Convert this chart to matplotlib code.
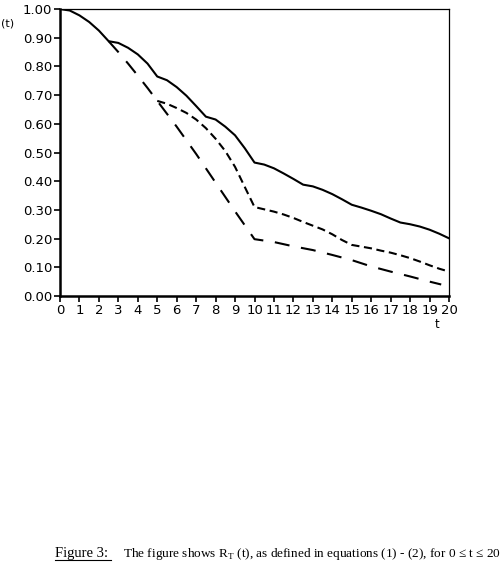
import numpy as np
import matplotlib.pyplot as plt

# ── data ───────────────────────────────────────────────────────────────────
t_solid = [0, 0.5, 1.0, 1.5, 2.0, 2.5, 3.0, 3.5, 4.0, 4.5, 5.0, 5.5, 6.0, 6.5,
           7.0, 7.5, 8.0, 8.5, 9.0, 9.5, 10.0, 10.5, 11.0, 11.5, 12.0, 12.5,
           13.0, 13.5, 14.0, 14.5, 15.0, 15.5, 16.0, 16.5, 17.0, 17.5, 18.0,
           18.5, 19.0, 19.5, 20.0]
r_solid = [1.000, 0.995, 0.978, 0.955, 0.925, 0.888, 0.882, 0.865, 0.842, 0.810,
           0.765, 0.752, 0.728, 0.698, 0.662, 0.625, 0.615, 0.590, 0.560, 0.515,
           0.465, 0.458, 0.445, 0.427, 0.408, 0.388, 0.382, 0.370, 0.355, 0.337,
           0.318, 0.308, 0.297, 0.285, 0.270, 0.256, 0.250, 0.242, 0.231, 0.217,
           0.201]

t_short = [5.0, 5.5, 6.0, 6.5, 7.0, 7.5, 8.0, 8.5, 9.0, 9.5, 10.0, 10.5, 11.0,
           11.5, 12.0, 12.5, 13.0, 13.5, 14.0, 14.5, 15.0, 15.5, 16.0, 16.5,
           17.0, 17.5, 18.0, 18.5, 19.0, 19.5, 20.0]
r_short = [0.680, 0.670, 0.655, 0.638, 0.615, 0.585, 0.548, 0.505, 0.450, 0.380,
           0.310, 0.302, 0.294, 0.284, 0.272, 0.258, 0.245, 0.232, 0.215, 0.195,
           0.178, 0.172, 0.166, 0.158, 0.151, 0.142, 0.132, 0.120, 0.107, 0.095,
           0.085]

t_long = [2.5, 3.0, 3.5, 4.0, 4.5, 5.0, 6.0, 7.0, 8.0, 9.0, 10.0, 11.0, 12.0,
          13.0, 14.0, 15.0, 16.0, 17.0, 18.0, 19.0, 19.6]
r_long = [0.888, 0.850, 0.810, 0.768, 0.725, 0.680, 0.590, 0.495, 0.395, 0.295,
          0.198, 0.188, 0.173, 0.160, 0.143, 0.125, 0.103, 0.085, 0.068, 0.050,
          0.040]

x_ticks = list(range(0, 21))
y_ticks = [0.0, 0.1, 0.2, 0.3, 0.4, 0.5, 0.6, 0.7, 0.8, 0.9, 1.0]

# ── figure ─────────────────────────────────────────────────────────────────
fig = plt.figure(figsize=(5.0, 5.67), dpi=100)
ax = fig.add_axes([0.12, 0.478, 0.778, 0.506])

ax.plot(t_solid, r_solid, color='black', lw=1.5, solid_joinstyle='round')
ax.plot(t_short, r_short, color='black', lw=1.5, linestyle=(0, (3.9, 2.2)))
ax.plot(t_long, r_long, color='black', lw=1.5, linestyle=(0, (7.2, 5.6)))

ax.set_xlim(0, 20)
ax.set_ylim(0, 1.0)
ax.set_xticks(x_ticks)
ax.set_xticklabels([str(v) for v in x_ticks], fontsize=9.5)
ax.set_yticks(y_ticks)
ax.set_yticklabels([f'{v:.2f}' for v in y_ticks], fontsize=9.5)
ax.tick_params(axis='both', direction='out', length=4, width=1.2, pad=1.5)
ax.tick_params(axis='x', pad=2)

ax.spines['left'].set_linewidth(1.8)
ax.spines['bottom'].set_linewidth(1.8)
ax.spines['top'].set_linewidth(0.9)
ax.spines['right'].set_linewidth(0.9)

# axis labels (only "(t)" of the y label is visible in the original)
fig.text(1 / 500, 1 - 24 / 567, '(t)', ha='left', va='center', fontsize=8)
fig.text(437 / 500, 1 - 324 / 567, 't', ha='center', va='center', fontsize=8.5)

# caption
cap_y = 1 - 557 / 567
fig.text(55 / 500, cap_y, 'Figure 3:', ha='left', va='baseline',
         fontsize=10.5, family='Liberation Serif')
fig.add_artist(plt.Line2D([55 / 500, 111 / 500], [1 - 559.5 / 567, 1 - 559.5 / 567],
                          color='black', lw=0.8))
fig.text(123 / 500, cap_y,
         r'The figure shows R$_\mathregular{T}$ (t), as defined in equations (1) - (2), for 0 ≤ t ≤ 20',
         ha='left', va='baseline', fontsize=9.5, family='Liberation Serif')

fig.savefig('out.png', dpi=100)
